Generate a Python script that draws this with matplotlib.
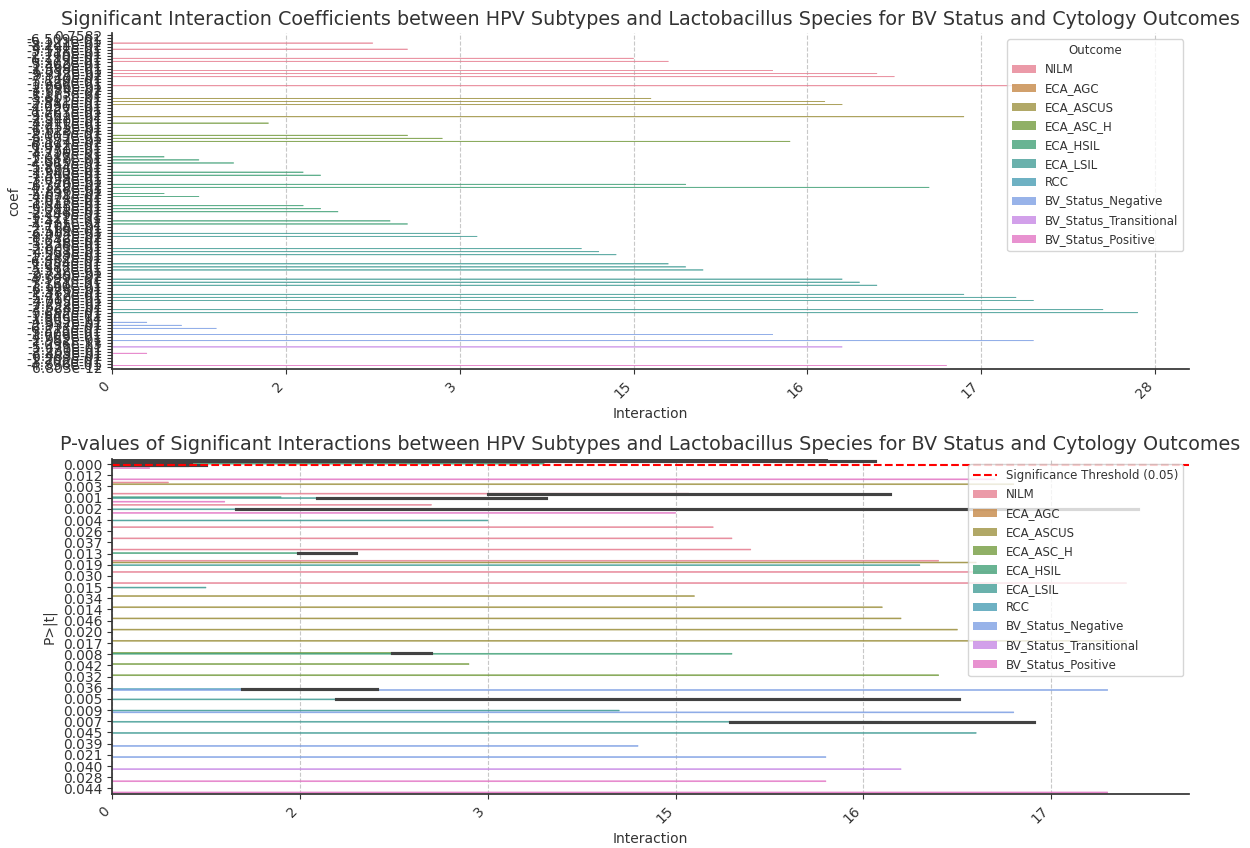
import matplotlib
matplotlib.use("Agg")
import matplotlib.pyplot as plt
import seaborn as sns
import pandas as pd

outcomes = ["NILM", "ECA_AGC", "ECA_ASCUS", "ECA_ASC_H", "ECA_HSIL", "ECA_LSIL",
            "RCC", "BV_Status_Negative", "BV_Status_Transitional", "BV_Status_Positive"]

# x tick labels (unique interaction ids)
interaction_labels = ["0", "2", "3", "15", "16", "17", "28"]

# --- top panel: one row per coefficient, grouped by outcome ---
top_nilm = [0, 0, 0, 7.5, 0, 8.5, 0, 0, 15.0, 16.0, 0, 0, 19.0, 22.0, 22.5, 0, 0, 26.0, 0]
top_agc = [0, 0]
top_ascus = [15.5, 20.5, 21.0, 0, 0, 0, 24.5, 0]
top_asc_h = [4.5, 0, 0, 0, 8.5, 9.5, 19.5, 0, 0, 0]
top_hsil = [0, 1.5, 2.5, 3.5, 0, 0, 5.5, 6.0, 0, 0, 16.5, 23.5, 0, 1.5, 2.5, 0, 0,
            5.5, 6.0, 6.5, 0, 0, 8.0, 8.5, 0, 0]
top_lsil = [10.0, 10.5, 0, 0, 0, 13.5, 14.0, 14.5, 0, 0, 16.0, 16.5, 17.0, 0, 0,
            21.0, 21.5, 22.0, 0, 0, 24.5, 26.0, 26.5, 0, 0, 28.5, 29.5]
top_rcc = [0, 0]
top_bv_neg = [1.0, 2.0, 3.0, 0, 19.0, 0, 26.5]
top_bv_trans = [0, 21.0, 0]
top_bv_pos = [1.0, 0, 0, 0, 24.0, 0]

coef_labels = [
    "0.7582", "-6.509e-01", "-5.121e-01", "-8.244e-02", "4.491e-01", "-3.118e-01",
    "2.775e-01", "-1.290e-01", "6.119e-01", "3.302e-01", "-2.460e-01", "1.588e-01",
    "-4.032e-01", "9.317e-02", "-7.140e-01", "5.529e-01", "-1.986e-01", "2.096e-01",
    "-3.684e-02", "1.173e-01", "-5.803e-01", "3.911e-01", "-2.881e-01", "7.036e-01",
    "-4.427e-01", "1.763e-01", "-9.661e-02", "2.542e-01", "-3.340e-01", "4.811e-01",
    "-1.455e-01", "6.628e-01", "-2.113e-01", "3.005e-01", "-5.377e-01", "8.124e-02",
    "-6.092e-01", "1.931e-01", "-3.750e-01", "4.216e-01", "-1.087e-01", "2.319e-01",
    "-4.965e-01", "5.834e-01", "-2.605e-01", "1.340e-01", "-7.503e-01", "3.628e-01",
    "-1.774e-01", "6.370e-02", "-4.188e-01", "2.856e-01", "-5.631e-02", "4.674e-01",
    "-3.028e-01", "1.012e-01", "-6.345e-01", "5.081e-01", "-2.248e-01", "3.449e-01",
    "-1.321e-01", "7.411e-02", "-4.705e-01", "2.166e-01", "-3.519e-01", "6.004e-01",
    "-8.772e-02", "1.646e-01", "-5.238e-01", "3.826e-01", "-2.001e-01", "4.553e-01",
    "-1.598e-01", "2.482e-01", "-6.854e-01", "1.254e-01", "-3.988e-01", "5.312e-01",
    "-2.736e-01", "9.845e-02", "-4.599e-01", "3.161e-01", "-1.140e-01", "6.928e-01",
    "-2.385e-01", "1.417e-01", "-5.710e-01", "4.005e-01", "-7.732e-02", "2.628e-01",
    "-3.264e-01", "5.682e-01", "-1.846e-01", "1.805e-14", "-4.352e-01", "2.937e-01",
    "-6.213e-01", "3.575e-01", "-1.609e-01", "4.769e-01", "-2.952e-01", "1.096e-13",
    "-5.471e-01", "2.230e-01", "-3.803e-01", "6.483e-01", "-1.208e-01", "3.702e-01",
    "-4.836e-01", "6.803e-12",
]

# --- bottom panel: p-value rows ---
p_labels = (["0.000"] * 13 + ["0.012"] + ["0.003"] * 2 + ["0.001"] * 6 + ["0.002"] * 4
            + ["0.004", "0.026", "0.037"] + ["0.013"] * 3 + ["0.019"] * 3 + ["0.030"]
            + ["0.015"] * 2 + ["0.034", "0.014", "0.046", "0.020", "0.017"]
            + ["0.008"] * 3 + ["0.042", "0.032"] + ["0.036"] * 3 + ["0.005"] * 2
            + ["0.009"] * 2 + ["0.007"] * 2 + ["0.045", "0.039", "0.021", "0.040", "0.028", "0.044"])
p_outcome = [
    "NILM", "NILM", "ECA_AGC", "ECA_AGC", "ECA_ASCUS", "ECA_ASCUS", "ECA_ASC_H", "ECA_HSIL",
    "ECA_LSIL", "ECA_LSIL", "RCC", "RCC", "BV_Status_Positive",
    "BV_Status_Positive",
    "NILM", "ECA_ASCUS",
    "NILM", "NILM", "ECA_HSIL", "ECA_LSIL", "ECA_LSIL", "BV_Status_Positive",
    "NILM", "ECA_LSIL", "ECA_LSIL", "BV_Status_Positive",
    "ECA_LSIL", "NILM", "NILM",
    "NILM", "ECA_HSIL", "ECA_HSIL",
    "NILM", "ECA_ASCUS", "ECA_LSIL",
    "NILM",
    "NILM", "ECA_LSIL",
    "ECA_ASCUS", "ECA_ASCUS", "ECA_ASCUS", "ECA_ASCUS", "ECA_ASCUS",
    "ECA_ASC_H", "ECA_ASC_H", "ECA_HSIL",
    "ECA_ASC_H", "ECA_ASC_H",
    "RCC", "RCC", "BV_Status_Negative",
    "ECA_LSIL", "ECA_LSIL",
    "ECA_LSIL", "BV_Status_Negative",
    "ECA_LSIL", "ECA_LSIL",
    "ECA_LSIL", "BV_Status_Negative", "BV_Status_Negative", "BV_Status_Transitional",
    "BV_Status_Positive", "BV_Status_Positive",
]
p_interaction = [
    0.0, 19.0, 0.0, 20.3, 0.0, 2.1, 1.9, 11.5, 0.0, 2.5, 0.0, 2.0, 1.0,
    23.5,
    1.5, 24.0,
    10.0, 20.7, 4.5, 5.45, 11.55, 3.0,
    8.5, 3.3, 27.3, 15.0,
    10.0, 16.0, 16.5,
    17.0, 4.95, 6.5,
    22.0, 23.0, 21.5,
    23.5,
    27.0, 2.5,
    15.5, 20.5, 21.0, 22.5, 27.0,
    7.45, 8.5, 16.5,
    9.5, 22.0,
    3.45, 7.05, 26.5,
    5.95, 22.55,
    13.5, 24.0,
    16.45, 24.55,
    23.0, 14.0, 19.0, 21.0,
    19.0, 26.5,
]

top_groups = [top_nilm, top_agc, top_ascus, top_asc_h, top_hsil, top_lsil,
              top_rcc, top_bv_neg, top_bv_trans, top_bv_pos]
top_df = pd.DataFrame({
    "Interaction": [v for g in top_groups for v in g],
    "coef": coef_labels,
    "Outcome": [o for o, g in zip(outcomes, top_groups) for _ in g],
})
p_df = pd.DataFrame({"Interaction": p_interaction, "P>|t|": p_labels, "Outcome": p_outcome})

plt.rcParams.update({
    "font.family": "DejaVu Sans",
    "font.size": 10,
    "text.color": "#333333",
    "axes.labelcolor": "#333333",
    "xtick.color": "#333333",
    "ytick.color": "#333333",
    "axes.edgecolor": "#333333",
    "axes.linewidth": 1.25,
    "axes.spines.top": False,
    "axes.spines.right": False,
})

fig, (ax1, ax2) = plt.subplots(2, 1, figsize=(12.5, 8.48), dpi=100)
fig.subplots_adjust(left=0.0896, right=0.9512, top=0.9605, bottom=0.0637, hspace=0.267)


def finish(ax, title):
    ax.set_title(title, fontsize=13.8)
    ax.grid(axis="x", linestyle="--", color="#c8c8c8", linewidth=0.8)
    ax.set_axisbelow(True)
    ticks = [t for t in ax.get_xticks() if 0 <= t <= ax.get_xlim()[1]]
    ax.set_xticks(ticks)
    ax.set_xticklabels(interaction_labels[:len(ticks)], rotation=45, ha="right")
    # bars are far thinner than a pixel: keep them from snapping away
    for p in ax.patches:
        p.set_snap(False)
        p.set_edgecolor(p.get_facecolor())
        p.set_linewidth(0.5)


sns.barplot(data=top_df, x="Interaction", y="coef", hue="Outcome", hue_order=outcomes,
            palette="husl", orient="h", dodge=True, alpha=0.8, ax=ax1)
finish(ax1, "Significant Interaction Coefficients between HPV Subtypes and Lactobacillus "
            "Species for BV Status and Cytology Outcomes")
leg = ax1.get_legend()
handles = leg.legend_handles
labels = [t.get_text() for t in leg.get_texts()]
ax1.legend(handles, labels, title="Outcome", loc="upper right", fontsize=8.5, title_fontsize=8.5)

sns.barplot(data=p_df, x="Interaction", y="P>|t|", hue="Outcome", hue_order=outcomes,
            palette="husl", orient="h", dodge=True, alpha=0.8, seed=0, ax=ax2)
thr = ax2.axhline(0.05, color="red", linestyle="--", linewidth=1.5,
                  label="Significance Threshold (0.05)")
finish(ax2, "P-values of Significant Interactions between HPV Subtypes and Lactobacillus "
            "Species for BV Status and Cytology Outcomes")
leg = ax2.get_legend()
handles = [thr] + list(leg.legend_handles)
labels = [thr.get_label()] + [t.get_text() for t in leg.get_texts()]
ax2.legend(handles, labels, loc="upper right", fontsize=8.5)

fig.savefig("out.png", dpi=100)
